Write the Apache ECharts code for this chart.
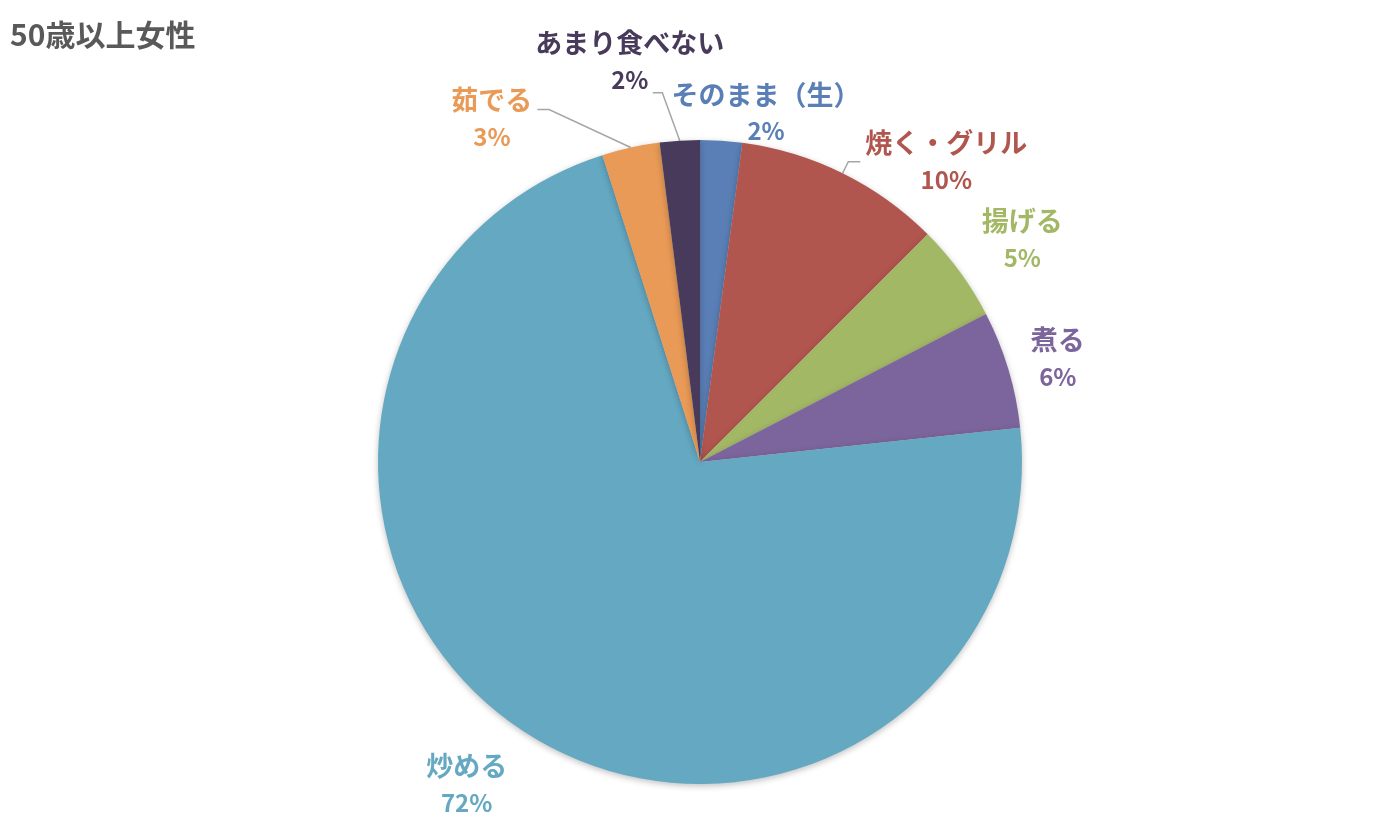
<!DOCTYPE html>
<html>
<head>
<meta charset="utf-8">
<script src="https://cdn.jsdelivr.net/npm/echarts@6/dist/echarts.min.js"></script>
<style>
  html, body { margin: 0; padding: 0; background: #fff; }
  #main { width: 1400px; height: 840px; }
</style>
</head>
<body>
<div id="main"></div>
<script>
  // データ
  var categories = ['そのまま（生）', '焼く・グリル', '揚げる', '煮る', '炒める', '茹でる', 'あまり食べない'];
  var values = [2.1, 10.4, 4.9, 5.9, 71.8, 2.9, 2.0];

  // 見た目（色・ラベル位置）
  var colors = ['#5A7FB6', '#B1564F', '#A3B865', '#7C659C', '#64A8C2', '#E99A56', '#483A5B'];
  // w: ラベル枠の幅, len/len2: 引き出し線の長さ, line: 線を表示するか, turn: 折れ角, pad: ラベルの余白
  var labelLayouts = [
    { w: 2,   len: 28, len2: 37, line: false, turn: 90,  pad: 0 },
    { w: 162, len: 13, len2: 12, line: true,  turn: 90,  pad: 0 },
    { w: 2,   len: 55, len2: 12, line: false, turn: 90,  pad: 0 },
    { w: 2,   len: 37, len2: 8,  line: false, turn: 90,  pad: 0 },
    { w: 2,   len: 63, len2: 17, line: false, turn: 90,  pad: 0 },
    { w: 81,  len: 39, len2: 85, line: true,  turn: 155, pad: [18, 0, 0, 0] },
    { w: 36,  len: 48, len2: 24, line: true,  turn: 110, pad: [0, 0, 62, 0] }
  ];

  var myChart = echarts.init(document.getElementById('main'));

  var data = categories.map(function (name, i) {
    var lo = labelLayouts[i];
    return {
      name: name,
      value: values[i],
      itemStyle: { color: colors[i] },
      label: {
        color: colors[i],
        padding: lo.pad,
        rich: {
          n: { width: lo.w, align: 'center', fontSize: 27, lineHeight: 37, fontWeight: 'bold', fontFamily: 'Noto Sans CJK JP', color: colors[i] },
          p: { width: lo.w, align: 'center', fontSize: 24, lineHeight: 37, fontWeight: 'bold', fontFamily: 'Noto Sans CJK JP', color: colors[i] }
        }
      },
      labelLine: { show: lo.line, length: lo.len, length2: lo.len2, minTurnAngle: lo.turn }
    };
  });

  var option = {
    title: {
      text: '50歳以上女性',
      left: 5,
      top: 15,
      textStyle: {
        fontFamily: 'Noto Sans CJK JP',
        fontSize: 30,
        fontWeight: 'bold',
        color: '#595959'
      }
    },
    series: [{
      type: 'pie',
      center: [700, 462],
      radius: 322,
      startAngle: 90,
      clockwise: true,
      avoidLabelOverlap: false,
      labelLayout: { hideOverlap: false },
      data: data,
      itemStyle: {
        shadowBlur: 6,
        shadowColor: 'rgba(0,0,0,0.25)',
        shadowOffsetY: 2
      },
      emphasis: { disabled: true },
      label: {
        position: 'outside',
        fontFamily: 'Noto Sans CJK JP',
        fontWeight: 'bold',
        distanceToLabelLine: 5,
        formatter: function (p) {
          return '{n|' + p.name + '}\n{p|' + Math.round(p.percent) + '%}';
        }
      },
      labelLine: {
        lineStyle: { color: '#A6A6A6', width: 1.5 }
      }
    }]
  };

  myChart.setOption(option);
</script>
</body>
</html>
